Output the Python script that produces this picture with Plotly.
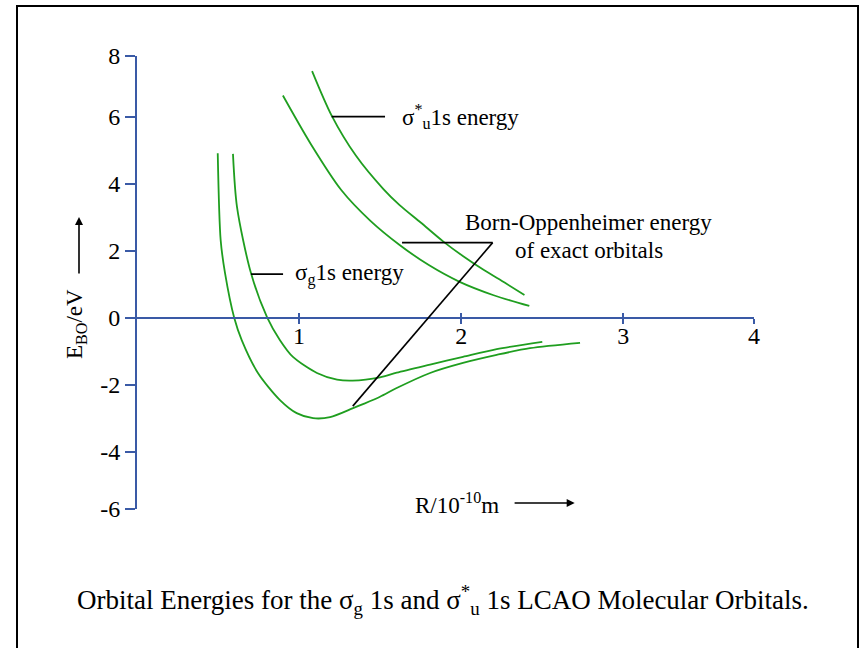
import plotly.graph_objects as go

# ---- data (R in 1e-10 m, E in eV) ----
sg_exact_r = [0.498, 0.516, 0.543, 0.600, 0.646, 0.746, 0.882, 0.985, 1.086, 1.191,
              1.333, 1.394, 1.499, 1.602, 1.808, 2.011, 2.219, 2.424, 2.733]
sg_exact_e = [4.92, 2.33, 1.34, 0.00, -0.66, -1.64, -2.45, -2.84, -2.99, -2.96,
              -2.69, -2.57, -2.35, -2.09, -1.64, -1.34, -1.10, -0.90, -0.74]

sg_lcao_r = [0.592, 0.617, 0.703, 0.802, 0.882, 0.962, 1.110, 1.234, 1.330,
             1.499, 1.602, 1.808, 2.011, 2.219, 2.500]
sg_lcao_e = [4.90, 3.31, 1.34, 0.03, -0.66, -1.16, -1.64, -1.84, -1.87,
             -1.77, -1.63, -1.39, -1.16, -0.93, -0.71]

su_lcao_r = [1.08, 1.20, 1.35, 1.52, 1.62, 1.75, 1.89, 2.01, 2.14, 2.27, 2.39]
su_lcao_e = [7.37, 6.05, 4.85, 3.85, 3.37, 2.85, 2.28, 1.85, 1.43, 1.05, 0.69]

su_exact_r = [0.90, 1.07, 1.26, 1.44, 1.62, 1.80, 1.99, 2.20, 2.42]
su_exact_e = [6.64, 5.21, 3.82, 2.90, 2.18, 1.58, 1.08, 0.68, 0.36]

# tick labels (end ticks are drawn compressed in the original diagram)
x_tick_vals = [1, 2, 3, 3.806]
x_tick_text = ["1", "2", "3", "4"]
y_tick_vals = [-5.70, -4, -2, 0, 2, 4, 6, 7.82]
y_tick_text = ["-6", "-4", "-2", "0", "2", "4", "6", "8"]

X_RANGE = [0, 3.806]
Y_RANGE = [-5.70, 7.82]

GREEN = "#1f9e1f"
BLUE = "#3a5aa6"
SERIF = "Liberation Serif, Times New Roman, serif"

fig = go.Figure()
for r, e in [(sg_exact_r, sg_exact_e), (sg_lcao_r, sg_lcao_e),
             (su_lcao_r, su_lcao_e), (su_exact_r, su_exact_e)]:
    fig.add_trace(go.Scatter(x=r, y=e, mode="lines",
                             line=dict(color=GREEN, width=1.8, shape="spline", smoothing=0.8),
                             hoverinfo="skip", showlegend=False))
# dummy trace to activate the overlay axis carrying the upward tick marks
fig.add_trace(go.Scatter(x=[None], y=[None], xaxis="x2", showlegend=False, hoverinfo="skip"))

W, H = 862, 648
ML, MR, MT, MB = 137, 108, 56, 139
PW, PH = W - ML - MR, H - MT - MB


def px(xp):
    return (xp - ML) / PW


def py(yp):
    return (H - MB - yp) / PH


zero_pos = (0 - Y_RANGE[0]) / (Y_RANGE[1] - Y_RANGE[0])

fig.update_layout(
    width=W, height=H,
    margin=dict(l=ML, r=MR, t=MT, b=MB),
    paper_bgcolor="white", plot_bgcolor="white",
    font=dict(family=SERIF, color="black", size=24),
    xaxis=dict(range=X_RANGE, anchor="free", position=zero_pos,
               showline=True, linecolor=BLUE, linewidth=2,
               ticks="outside", ticklen=5, tickwidth=2, tickcolor=BLUE,
               tickvals=x_tick_vals, ticktext=x_tick_text, ticklabelstandoff=-9,
               tickfont=dict(size=24, family=SERIF, color="black"),
               showgrid=False, zeroline=False, fixedrange=True),
    xaxis2=dict(range=X_RANGE, overlaying="x", anchor="free", position=zero_pos,
                matches="x", showline=False, ticks="inside", ticklen=5, tickwidth=2,
                tickcolor=BLUE, tickvals=x_tick_vals, showticklabels=False,
                showgrid=False, zeroline=False),
    yaxis=dict(range=Y_RANGE, showline=True, linecolor=BLUE, linewidth=2,
               ticks="outside", ticklen=10, tickwidth=2, tickcolor=BLUE,
               tickvals=y_tick_vals, ticktext=y_tick_text,
               tickfont=dict(size=24, family=SERIF, color="black"),
               showgrid=False, zeroline=False, fixedrange=True),
)

# frame around the figure
fig.add_shape(type="rect", xref="paper", yref="paper",
              x0=px(17), x1=px(858), y0=py(665), y1=py(6),
              line=dict(color="black", width=2), fillcolor="rgba(0,0,0,0)", layer="below")

# leader lines
leaders = [
    (1.201, 6.01, 1.530, 6.01),
    (0.703, 1.31, 0.901, 1.31),
    (1.635, 2.25, 2.194, 2.25),
    (2.194, 2.25, 1.331, -2.63),
]
for x0, y0, x1, y1 in leaders:
    fig.add_shape(type="line", xref="x", yref="y", x0=x0, y0=y0, x1=x1, y1=y1,
                  line=dict(color="black", width=1.6))

# labels
fig.add_annotation(x=1.622, y=6.0, xref="x", yref="y", xanchor="left", yanchor="middle",
                   text="σ<sup>*</sup><sub>u</sub>1s energy", showarrow=False, font=dict(size=23))
fig.add_annotation(x=0.962, y=1.31, xref="x", yref="y", xanchor="left", yanchor="middle",
                   text="σ<sub>g</sub>1s energy", showarrow=False, font=dict(size=23))
fig.add_annotation(x=2.788, y=2.85, xref="x", yref="y", xanchor="center", yanchor="middle",
                   text="Born-Oppenheimer energy", showarrow=False, font=dict(size=23))
fig.add_annotation(x=2.788, y=2.01, xref="x", yref="y", xanchor="center", yanchor="middle",
                   text="of exact orbitals", showarrow=False, font=dict(size=23))
fig.add_annotation(x=1.703, y=-5.55, xref="x", yref="y", xanchor="left", yanchor="middle",
                   text="R/10<sup>-10</sup>m", showarrow=False, font=dict(size=23))
fig.add_annotation(x=2.70, y=-5.52, ax=2.32, ay=-5.52, xref="x", yref="y",
                   axref="x", ayref="y", text="", showarrow=True,
                   arrowhead=2, arrowsize=1, arrowwidth=1.6, arrowcolor="black")
fig.add_annotation(x=px(76), y=py(324), xref="paper", yref="paper",
                   xanchor="center", yanchor="middle",
                   text="E<sub>BO</sub>/eV", textangle=-90, showarrow=False, font=dict(size=23))
fig.add_annotation(x=px(79), y=py(217), ax=0, ay=58, xref="paper", yref="paper",
                   text="", showarrow=True,
                   arrowhead=2, arrowsize=1, arrowwidth=1.6, arrowcolor="black")
fig.add_annotation(x=px(443), y=py(600), xref="paper", yref="paper",
                   xanchor="center", yanchor="middle",
                   text="Orbital Energies for the σ<sub>g</sub> 1s and σ<sup>*</sup><sub>u</sub> 1s LCAO Molecular Orbitals.",
                   showarrow=False, font=dict(size=27))

fig.write_html("out.html")
